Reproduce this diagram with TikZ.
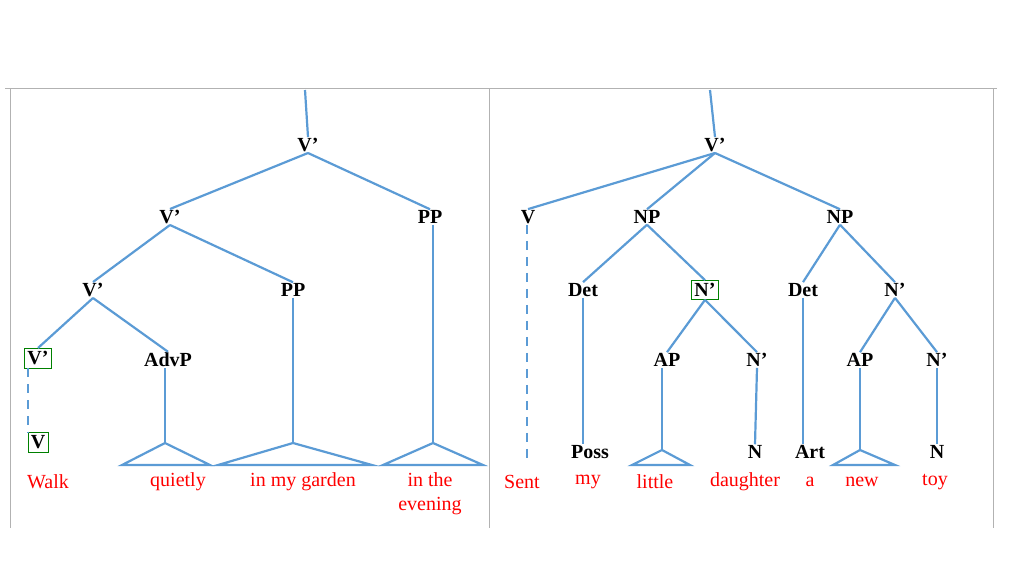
\documentclass[tikz,border=0pt]{standalone}
\usepackage{fontspec}
\setmainfont{Liberation Serif}
\usetikzlibrary{calc}
\tikzset{
  lbl/.style={font=\fontsize{20}{22}\selectfont\bfseries,inner sep=1pt},
  box/.style={lbl,draw=green!50!black,thin,inner sep=3pt},
  word/.style={font=\fontsize{20}{22}\selectfont,text=red,inner sep=1pt,align=center},
  br/.style={draw=blue!45!cyan!70!black!70,line width=2.2pt,color={rgb,255:red,91;green,155;blue,213}},
  frame/.style={draw=gray!60,line width=0.8pt}
}
\begin{document}
\begin{tikzpicture}[x=1pt,y=-1pt]
\useasboundingbox (0,0) rectangle (1024,576);
\draw[frame] (5,88) -- (997,88);
\draw[frame] (10,88) -- (10,528);
\draw[frame] (489,88) -- (489,528);
\draw[frame] (993,88) -- (993,528);
% left tree
\coordinate (ltop) at (305,90);
\node[lbl] (a) at (308,145) {V’};
\node[lbl] (b) at (170,217) {V’};
\node[lbl] (c) at (430,217) {PP};
\node[lbl] (d) at (93,290) {V’};
\node[lbl] (e) at (293,290) {PP};
\node[box] (f) at (38,358) {V’};
\node[lbl] (g) at (168,360) {AdvP};
\node[box] (h) at (38,442) {V};
\draw[br] (ltop) -- (a.north);
\draw[br] (a.south) -- (b.north);
\draw[br] (a.south) -- (c.north);
\draw[br] (b.south) -- (d.north);
\draw[br] (b.south) -- (e.north);
\draw[br] (d.south) -- (f.north);
\draw[br] (d.south) -- (g.north);
\draw[br,dash pattern=on 9pt off 7pt] (f.south -| 28,0) -- (h.north -| 28,0);
\foreach \n/\x/\l/\r in {g/165/122/210, e/293/218/372, c/433/383/483} {
  \draw[br] (\n.south -| \x,0) -- (\x,443);
  \draw[br,line join=miter] (\x,443) -- (\l,465) -- (\r,465) -- cycle;
}
\node[word] (w1) at (48,482) {Walk};
\node[word] (w2) at (178,482) {quietly};
\node[word] (w3) at (303,482) {in my garden};
\node[word,anchor=north] (w4) at (430,471) {in the\\[2pt]evening};
% right tree
\coordinate (rtop) at (710,90);
\node[lbl] (A) at (715,145) {V’};
\node[lbl] (B) at (528,217) {V};
\node[lbl] (C) at (647,217) {NP};
\node[lbl] (D) at (840,217) {NP};
\node[lbl] (E) at (583,290) {Det};
\node[box] (F) at (705,290) {N’};
\node[lbl] (G) at (803,290) {Det};
\node[lbl] (H) at (895,290) {N’};
\node[lbl] (I) at (667,360) {AP};
\node[lbl] (J) at (757,360) {N’};
\node[lbl] (K) at (860,360) {AP};
\node[lbl] (L) at (937,360) {N’};
\node[lbl] (M) at (590,452) {Poss};
\node[lbl] (N1) at (755,452) {N};
\node[lbl] (O) at (810,452) {Art};
\node[lbl] (N2) at (937,452) {N};
\draw[br] (rtop) -- (A.north);
\foreach \n in {B,C,D} \draw[br] (A.south) -- (\n.north);
\draw[br] (C.south) -- (E.north);
\draw[br] (C.south) -- (F.north);
\draw[br] (D.south) -- (G.north);
\draw[br] (D.south) -- (H.north);
\draw[br] (F.south) -- (I.north);
\draw[br] (F.south) -- (J.north);
\draw[br] (H.south) -- (K.north);
\draw[br] (H.south) -- (L.north);
\draw[br,dash pattern=on 9pt off 7pt] (B.south -| 527,0) -- (527,462);
\draw[br] (E.south) -- (E.south |- M.north);
\draw[br] (J.south) -- (N1.north);
\draw[br] (G.south) -- (G.south |- O.north);
\draw[br] (L.south) -- (N2.north);
\foreach \n/\x/\l/\r in {I/662/632/690, K/860/833/895} {
  \draw[br] (\n.south -| \x,0) -- (\x,450);
  \draw[br,line join=miter] (\x,450) -- (\l,465) -- (\r,465) -- cycle;
}
\node[word] (v1) at (522,482) {Sent};
\node[word] (v2) at (588,482) {my};
\node[word] (v3) at (655,482) {little};
\node[word] (v4) at (745,482) {daughter};
\node[word] (v5) at (810,482) {a};
\node[word] (v6) at (862,482) {new};
\node[word] (v7) at (935,482) {toy};
\end{tikzpicture}
\end{document}
